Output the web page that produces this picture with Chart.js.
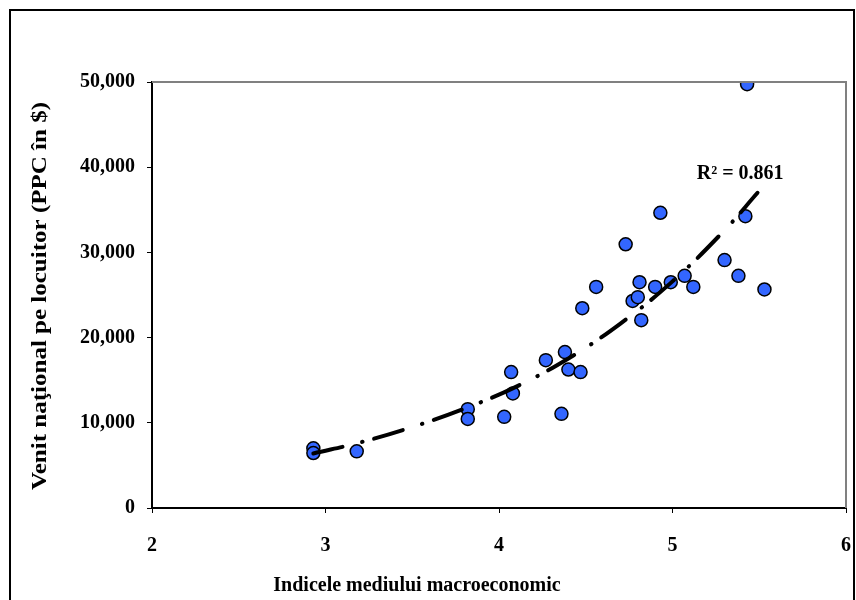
<!DOCTYPE html>
<html>
<head>
<meta charset="utf-8">
<script src="https://cdn.jsdelivr.net/npm/chart.js@4.4.1/dist/chart.umd.min.js"></script>
<style>
	html, body { margin: 0; padding: 0; background: #ffffff; }
	#wrap { position: relative; width: 856px; height: 600px; }
</style>
</head>
<body>
<div id="wrap"><canvas id="chart" width="856" height="600"></canvas></div>
<script>
// macroeconomic environment index (x) vs. national income per capita, PPP $ (y)
const indexValues = [2.93, 2.93, 3.18, 3.82, 3.82, 4.03, 4.07, 4.08, 4.27, 4.38, 4.36, 4.40, 4.47, 4.48, 4.56,
	4.73, 4.77, 4.80, 4.81, 4.82, 4.90, 4.93, 4.99, 5.07, 5.12, 5.30, 5.38, 5.42, 5.43, 5.53];
const incomeValues = [7000, 6450, 6650, 11600, 10450, 10700, 15950, 13450, 17350, 18300, 11050, 16250, 15950, 23450, 25950,
	30950, 24300, 24750, 26500, 22050, 25950, 34650, 26500, 27250, 25950, 29100, 27250, 34250, 49750, 25650];

// trendline
const trendX = [2.93, 3.2, 3.5, 3.8, 4.1, 4.4, 4.7, 5.0, 5.3, 5.49];
const trendY = [6400, 7700, 9500, 11650, 14250, 17550, 21650, 26600, 32600, 37000];

const xTicks = [2, 3, 4, 5, 6];
const yTicks = [0, 10000, 20000, 30000, 40000, 50000];

const xTitle = 'Indicele mediului macroeconomic';
const yTitle = 'Venit naţional pe locuitor (PPC în $)';
const r2Label = 'R² = 0.861';

const serif = '"Liberation Serif", "Times New Roman", serif';

const decorPlugin = {
	id: 'decor',
	beforeDraw: function (chart) {
		const ctx = chart.ctx;
		ctx.save();
		ctx.fillStyle = '#ffffff';
		ctx.fillRect(0, 0, chart.width, chart.height);
		// outer frame
		ctx.strokeStyle = '#000000';
		ctx.lineWidth = 2;
		ctx.strokeRect(10, 10, 844, 600);
		ctx.restore();
	},
	afterDraw: function (chart) {
		const ctx = chart.ctx;
		const area = chart.chartArea;
		const xs = chart.scales.x;
		const ys = chart.scales.y;
		ctx.save();
		// plot area top/right edges
		ctx.strokeStyle = '#808080';
		ctx.lineWidth = 2;
		ctx.beginPath();
		ctx.moveTo(area.left, area.top);
		ctx.lineTo(area.right, area.top);
		ctx.lineTo(area.right, area.bottom);
		ctx.stroke();

		ctx.fillStyle = '#000000';
		ctx.font = 'bold 20px ' + serif;
		ctx.textAlign = 'center';
		ctx.textBaseline = 'alphabetic';
		ctx.fillText(xTitle, 417, 591);

		ctx.fillText(r2Label, xs.getPixelForValue(5.39), ys.getPixelForValue(39400) + 7);

		// the vertical title is drawn wider, as in the original
		ctx.translate(46, 296);
		ctx.rotate(-Math.PI / 2);
		ctx.scale(1.25, 1);
		ctx.fillText(yTitle, 0, 0);
		ctx.restore();
	}
};

new Chart(document.getElementById('chart'), {
	type: 'scatter',
	data: {
		datasets: [{
			type: 'line',
			label: 'Trend',
			data: trendX.map((x, i) => ({ x: x, y: trendY[i] })),
			borderColor: '#000000',
			borderWidth: 4,
			borderDash: [30, 20, 0.5, 12],
			borderCapStyle: 'round',
			pointRadius: 0,
			tension: 0.4,
			fill: false
		}, {
			label: 'Tari',
			data: indexValues.map((x, i) => ({ x: x, y: incomeValues[i] })),
			backgroundColor: '#3366ff',
			borderColor: '#000000',
			borderWidth: 1.5,
			pointRadius: 6.5
		}]
	},
	options: {
		responsive: false,
		animation: false,
		layout: {
			autoPadding: false,
			padding: { top: 82, right: 10, left: 0, bottom: 0 }
		},
		scales: {
			x: {
				type: 'linear',
				min: 2,
				max: 6,
				afterFit: function (scale) { scale.height = 92; scale.paddingRight = 0; },
				afterBuildTicks: function (scale) { scale.ticks = xTicks.map(v => ({ value: v })); },
				border: { color: '#000000', width: 2 },
				grid: { drawOnChartArea: false, drawTicks: true, tickLength: 5, color: '#000000' },
				ticks: {
					color: '#000000',
					padding: 21,
					font: { family: serif, size: 20, weight: 'bold' }
				}
			},
			y: {
				type: 'linear',
				min: 0,
				max: 50000,
				afterFit: function (scale) { scale.width = 152; },
				afterBuildTicks: function (scale) { scale.ticks = yTicks.map(v => ({ value: v })); },
				border: { color: '#000000', width: 2 },
				grid: { drawOnChartArea: false, drawTicks: true, tickLength: 5, color: '#000000' },
				ticks: {
					color: '#000000',
					padding: 12,
					font: { family: serif, size: 20, weight: 'bold' },
					callback: v => v.toLocaleString('en-US')
				}
			}
		},
		plugins: {
			legend: { display: false },
			tooltip: { enabled: false }
		}
	},
	plugins: [decorPlugin]
});
</script>
</body>
</html>
